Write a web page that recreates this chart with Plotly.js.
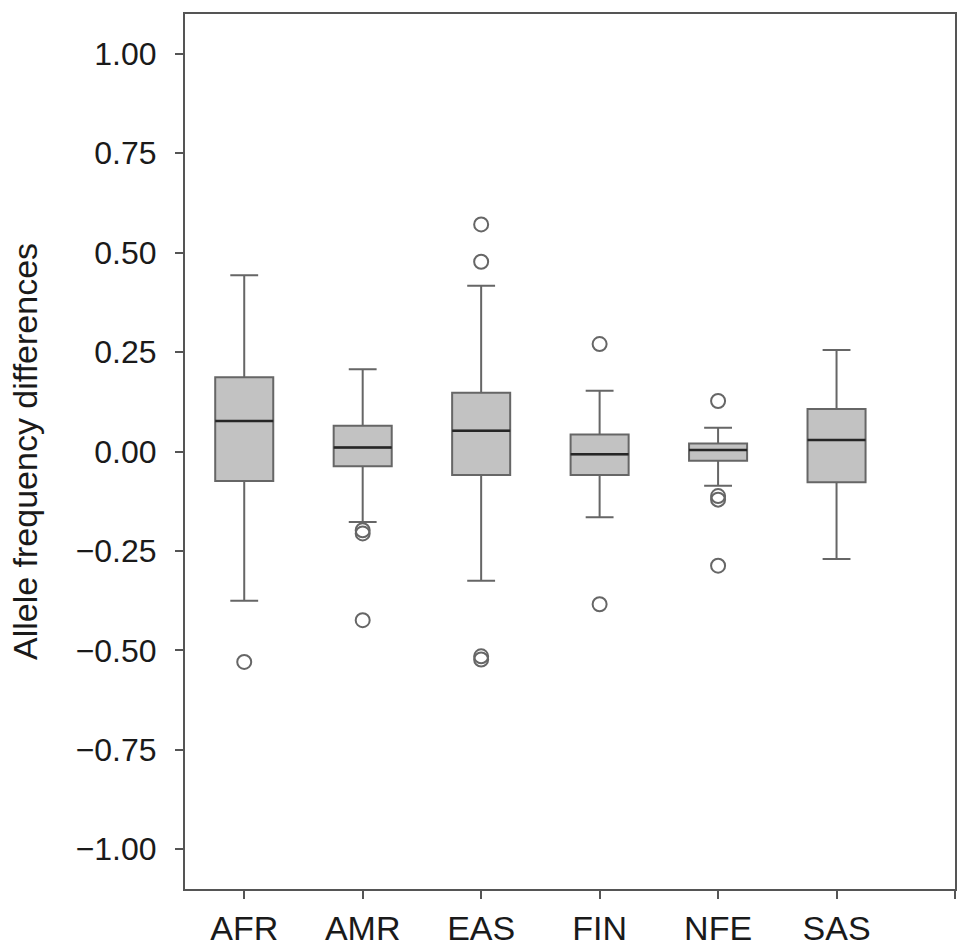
<!DOCTYPE html>
<html>
<head>
<meta charset="utf-8">
<script src="https://cdn.plot.ly/plotly-3.0.1.min.js"></script>
<style>html,body{margin:0;padding:0;background:#fff;}#chart{width:969px;height:951px;}</style>
</head>
<body>
<div id="chart"></div>
<script>
// Categories (last slot is empty on the reference axis)
const categories = ['AFR', 'AMR', 'EAS', 'FIN', 'NFE', 'SAS'];
const axisCategories = ['AFR', 'AMR', 'EAS', 'FIN', 'NFE', 'SAS', ' '];

// Box statistics
const q1         = [-0.074, -0.037, -0.059, -0.059, -0.023, -0.077];
const medians    = [ 0.077,  0.010,  0.052, -0.007,  0.004,  0.029];
const q3         = [ 0.187,  0.065,  0.148,  0.043,  0.020,  0.107];
const lowerFence = [-0.375, -0.177, -0.325, -0.165, -0.086, -0.270];
const upperFence = [ 0.443,  0.207,  0.417,  0.153,  0.060,  0.255];

// Outliers
const outlierCat = ['AFR', 'AMR', 'AMR', 'AMR', 'EAS', 'EAS', 'EAS', 'EAS', 'FIN', 'FIN', 'NFE', 'NFE', 'NFE', 'NFE'];
const outlierVal = [-0.529, -0.198, -0.206, -0.424, 0.571, 0.477, -0.515, -0.523, 0.270, -0.384, 0.127, -0.112, -0.121, -0.287];

// Y ticks
const yTicks = [-1, -0.75, -0.5, -0.25, 0, 0.25, 0.5, 0.75, 1];

const boxTrace = {
  type: 'box',
  x: categories,
  q1: q1, median: medians, q3: q3,
  lowerfence: lowerFence, upperfence: upperFence,
  boxpoints: false,
  width: 0.49,
  whiskerwidth: 0.48,
  fillcolor: '#c2c2c2',
  line: {color: '#666666', width: 2},
  hoverinfo: 'skip',
  showlegend: false
};

const medianTrace = {
  type: 'box',
  x: categories,
  q1: medians, median: medians, q3: medians,
  lowerfence: medians, upperfence: medians,
  boxpoints: false,
  width: 0.49,
  whiskerwidth: 0,
  fillcolor: 'rgba(0,0,0,0)',
  line: {color: '#262626', width: 2.5},
  hoverinfo: 'skip',
  showlegend: false
};

const outlierTrace = {
  type: 'scatter',
  mode: 'markers',
  x: outlierCat,
  y: outlierVal,
  marker: {symbol: 'circle-open', size: 14, color: '#666666', line: {width: 2, color: '#666666'}},
  hoverinfo: 'skip',
  showlegend: false
};

const font = {family: '"Liberation Sans", Arial, Helvetica, sans-serif', color: '#1a1a1a'};

const layout = {
  width: 969, height: 951,
  margin: {l: 185, r: 14, t: 14, b: 62},
  paper_bgcolor: '#ffffff',
  plot_bgcolor: '#ffffff',
  showlegend: false,
  font: Object.assign({size: 32}, font),
  xaxis: {
    type: 'category',
    categoryorder: 'array',
    categoryarray: axisCategories,
    tickvals: axisCategories,
    ticktext: axisCategories,
    range: [-0.5, 6],
    showgrid: false,
    zeroline: false,
    showline: true,
    linecolor: '#555555',
    linewidth: 2,
    mirror: true,
    ticks: 'outside',
    ticklen: 8,
    tickwidth: 2,
    tickcolor: '#555555',
    tickfont: Object.assign({size: 34}, font),
    fixedrange: true
  },
  yaxis: {
    range: [-1.1, 1.1],
    tickvals: yTicks,
    tickformat: '.2f',
    showgrid: false,
    zeroline: false,
    showline: true,
    linecolor: '#555555',
    linewidth: 2,
    mirror: true,
    ticks: 'outside',
    ticklen: 8,
    tickwidth: 2,
    tickcolor: '#555555',
    ticklabelstandoff: 12,
    tickfont: Object.assign({size: 32}, font),
    title: {text: 'Allele frequency differences', font: Object.assign({size: 34}, font), standoff: 28},
    fixedrange: true
  },
  boxmode: 'overlay'
};

Plotly.newPlot('chart', [boxTrace, medianTrace, outlierTrace], layout, {staticPlot: true, displayModeBar: false});
</script>
</body>
</html>
